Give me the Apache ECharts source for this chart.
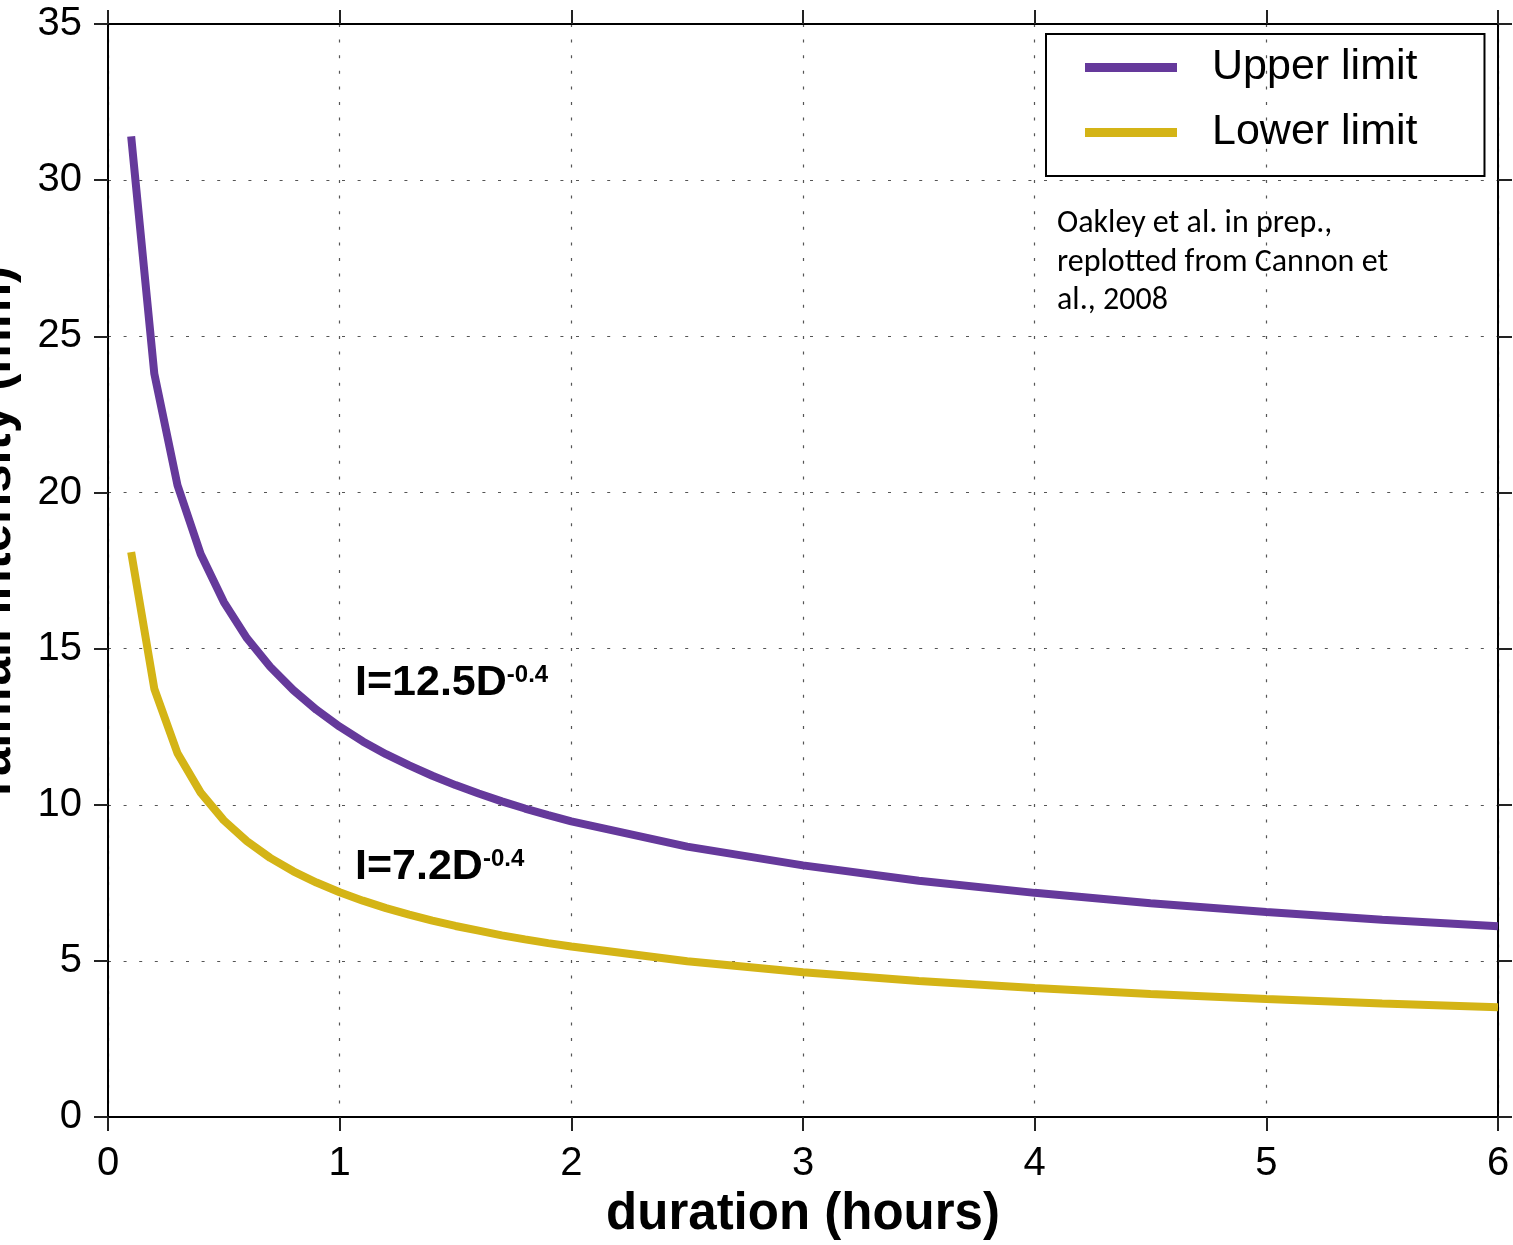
<!DOCTYPE html>
<html>
<head>
<meta charset="utf-8">
<script src="https://cdn.jsdelivr.net/npm/echarts@6/dist/echarts.min.js"></script>
<style>
  html, body { margin: 0; padding: 0; background: #fff; }
  #main { width: 1513px; height: 1245px; }
</style>
</head>
<body>
<div id="main"></div>
<script>
// duration in hours
var durations = [0.1, 0.2, 0.3, 0.4, 0.5, 0.6, 0.7, 0.8, 0.9, 1.0,
  1.1, 1.2, 1.3, 1.4, 1.5, 1.6, 1.7, 1.8, 1.9, 2.0,
  2.5, 3.0, 3.5, 4.0, 4.5, 5.0, 5.5, 6.0];
// rainfall intensity (mm)
var upperLimit = [31.40, 23.80, 20.23, 18.03, 16.49, 15.33, 14.42, 13.67, 13.04, 12.50,
  12.03, 11.62, 11.26, 10.93, 10.63, 10.36, 10.11, 9.88, 9.67, 9.47,
  8.66, 8.06, 7.57, 7.18, 6.85, 6.57, 6.32, 6.11];
var lowerLimit = [18.09, 13.71, 11.65, 10.39, 9.50, 8.83, 8.30, 7.87, 7.51, 7.20,
  6.93, 6.69, 6.48, 6.29, 6.12, 5.97, 5.82, 5.69, 5.57, 5.46,
  4.99, 4.64, 4.36, 4.13, 3.94, 3.78, 3.64, 3.52];

var seriesNames = ['Upper limit', 'Lower limit'];
var colors = ['#65399b', '#d4b416'];

var font = '"Liberation Sans", Arial, Helvetica, sans-serif';

function pairs(ys) {
  return durations.map(function (d, i) { return [d, ys[i]]; });
}

var chart = echarts.init(document.getElementById('main'), null, { renderer: 'canvas' });

var gridLine = {
  show: true,
  lineStyle: { color: '#555', width: 1.2, type: [3, 12.6] }
};
var axisLine = { show: true, onZero: false, lineStyle: { color: '#000', width: 2 } };
var axisTick = { show: true, inside: false, length: 14, lineStyle: { color: '#222', width: 2 } };

var formulaRich = {
  a: { fontFamily: font, fontSize: 43, fontWeight: 'bold', lineHeight: 43, fill: '#000' },
  b: { fontFamily: font, fontSize: 24, fontWeight: 'bold', lineHeight: 24, verticalAlign: 'top', padding: [1, 0, 0, 0], fill: '#000' }
};

var option = {
  animation: false,
  backgroundColor: '#fff',
  color: colors,
  grid: { left: 108, right: 15, top: 24, bottom: 124, containLabel: false },
  legend: {
    data: seriesNames,
    orient: 'vertical',
    left: 1046,
    top: 34,
    padding: [12, 67, 22, 39],
    itemWidth: 92,
    itemHeight: 9,
    itemGap: 22,
    icon: 'rect',
    borderColor: '#000',
    borderWidth: 2,
    borderRadius: 0,
    textStyle: {
      fontFamily: font,
      fontSize: 43,
      lineHeight: 43,
      color: '#000',
      padding: [0, 0, 0, 30]
    }
  },
  xAxis: [
    {
      type: 'value',
      position: 'bottom',
      min: 0, max: 6, interval: 1,
      name: 'duration (hours)',
      nameLocation: 'middle',
      nameGap: 45,
      nameTextStyle: { fontFamily: font, fontSize: 51, fontWeight: 'bold', color: '#000' },
      axisLine: axisLine,
      axisTick: axisTick,
      axisLabel: { fontFamily: font, fontSize: 40, color: '#000', margin: 27 },
      splitLine: gridLine
    },
    {
      type: 'value',
      position: 'top',
      min: 0, max: 6, interval: 1,
      axisLine: axisLine,
      axisTick: axisTick,
      axisLabel: { show: false },
      splitLine: { show: false }
    }
  ],
  yAxis: [
    {
      type: 'value',
      position: 'left',
      min: 0, max: 35, interval: 5,
      axisLine: axisLine,
      axisTick: axisTick,
      axisLabel: { fontFamily: font, fontSize: 40, color: '#000', margin: 26 },
      splitLine: gridLine
    },
    {
      type: 'value',
      position: 'right',
      min: 0, max: 35, interval: 5,
      axisLine: axisLine,
      axisTick: axisTick,
      axisLabel: { show: false },
      splitLine: { show: false }
    }
  ],
  graphic: [
    {
      type: 'text',
      x: -4, y: 531,
      rotation: Math.PI / 2,
      style: {
        text: 'rainfall intensity (mm)',
        font: 'bold 51px ' + font,
        fill: '#000',
        textAlign: 'center',
        textVerticalAlign: 'middle'
      }
    },
    {
      type: 'text',
      x: 1057, y: 205,
      style: {
        text: 'Oakley et al. in prep.,\nreplotted from Cannon et\nal., 2008',
        font: '32px Carlito, Lato, sans-serif',
        lineHeight: 38.5,
        fill: '#000',
        textAlign: 'left',
        textVerticalAlign: 'top'
      }
    },
    {
      type: 'text',
      x: 355, y: 662,
      style: {
        text: '{a|I=12.5D}{b|-0.4}',
        textVerticalAlign: 'top',
        rich: formulaRich
      }
    },
    {
      type: 'text',
      x: 355, y: 846,
      style: {
        text: '{a|I=7.2D}{b|-0.4}',
        textVerticalAlign: 'top',
        rich: formulaRich
      }
    }
  ],
  series: [
    {
      name: seriesNames[0],
      type: 'line',
      data: pairs(upperLimit),
      showSymbol: false,
      symbol: 'none',
      lineStyle: { width: 8, color: colors[0] },
      itemStyle: { color: colors[0] },
      z: 3
    },
    {
      name: seriesNames[1],
      type: 'line',
      data: pairs(lowerLimit),
      showSymbol: false,
      symbol: 'none',
      lineStyle: { width: 8, color: colors[1] },
      itemStyle: { color: colors[1] },
      z: 3
    }
  ]
};

chart.setOption(option);
</script>
</body>
</html>
